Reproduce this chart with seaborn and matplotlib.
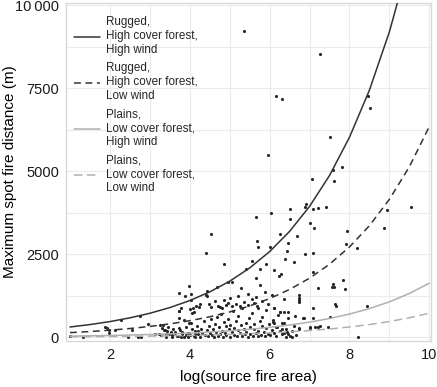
import numpy as np
import pandas as pd
import matplotlib
matplotlib.use("Agg")
import matplotlib.pyplot as plt
import seaborn as sns

# ------------------------------------------------------------ observations
obs_x = [
    5.37, 7.26, 6.15, 6.30, 8.46, 8.51, 7.52, 5.97, 7.81, 7.59, 7.06, 7.62,
    6.50, 6.91, 6.89, 7.08, 7.22, 7.41, 9.55, 8.93, 6.50, 7.02, 7.11, 6.68, 7.95, 8.87, 7.92,
    5.67, 6.03, 6.25, 5.69, 5.70, 6.00, 6.46, 6.43, 6.39, 6.60, 6.88, 7.09, 8.19,
    5.91, 5.77, 6.11, 6.28, 6.23, 5.65, 5.40, 5.55, 4.85, 4.95, 5.05, 5.28, 5.76, 7.09, 7.22,
    7.59, 7.62, 7.57, 7.85, 7.90,
    6.74, 6.74, 6.74, 6.74, 6.36, 6.11, 6.27, 6.37, 6.45, 6.45, 6.64, 6.83, 7.08, 7.09, 7.63,
    7.67, 7.51, 8.44, 8.22, 6.74, 7.02, 7.22, 7.47,
    4.40, 4.54, 4.40, 4.44, 4.69, 3.74, 3.88, 3.99, 4.04, 4.03, 4.07, 3.74, 3.79, 4.15, 4.24,
    3.72, 4.00, 4.10, 4.06, 4.25, 4.43, 4.48, 4.53,
    1.00, 1.32, 2.27, 2.75, 1.88, 1.93, 1.98, 1.98, 2.13, 2.45, 2.70, 2.78, 2.55, 2.95, 3.12,
    3.22, 3.32, 3.35, 3.44, 3.41, 3.48,
    3.55, 3.62, 3.68, 3.75, 3.80, 3.85, 3.90, 3.95, 4.00, 4.02, 4.05, 4.10, 4.12, 4.18, 4.20,
    4.25, 4.28, 4.30, 4.35, 4.38, 4.42, 4.45, 4.48, 4.50, 4.52, 4.55, 4.58, 4.60, 4.62, 4.65,
    4.68, 4.70, 4.72, 4.75, 4.78, 4.80, 4.82, 4.85, 4.88, 4.90, 4.92, 4.95, 4.98, 5.00, 5.02,
    5.05, 5.08, 5.10, 5.12, 5.15, 5.18, 5.20, 5.22, 5.25, 5.28, 5.30, 5.32, 5.35, 5.38, 5.40,
    5.42, 5.45, 5.48, 5.50, 5.52, 5.55, 5.58, 5.60, 5.62, 5.65, 5.68, 5.70, 5.72, 5.75, 5.78,
    5.80, 5.82, 5.85, 5.88, 5.90, 5.92, 5.95, 5.98, 6.00, 6.05, 6.08, 6.12, 6.15, 6.18, 6.22,
    6.25, 6.30, 6.35, 6.40, 6.45, 6.50, 6.55, 6.60, 6.65,
    4.70, 4.75, 4.80, 4.90, 4.95, 5.05, 5.15, 5.25, 5.35, 5.45, 5.55, 5.60, 5.70, 4.62, 4.85,
    5.00, 5.20, 5.45, 5.65, 5.80, 5.88, 5.95, 6.05,
    6.10, 6.15, 6.31, 6.36, 6.40, 6.44, 6.56, 6.73, 6.85, 7.02, 7.14, 7.27, 6.10, 6.27, 6.31, 6.09,
    3.25, 3.31, 3.37, 3.46, 3.52, 3.58, 3.64, 3.73, 3.81, 3.90, 3.98, 4.14, 4.21, 3.28, 3.41,
    3.55, 3.71, 3.79, 3.96, 4.12, 3.74, 3.86, 3.99,
]
obs_y = [
    9218, 8525, 7271, 7171, 7253, 6900, 6028, 5496, 5134, 5035, 4755, 4704,
    3860, 4024, 3922, 3860, 3882, 3921, 3931, 3822, 3560, 3449, 3280, 3058, 3199, 3289, 2808,
    3611, 3750, 3108, 2907, 2727, 2717, 2838, 2597, 2356, 2266, 2516, 2546, 2678,
    2215, 2065, 2035, 1905, 1836, 1794, 2065, 2296, 2197, 1673, 1673, 1484, 1574, 1965, 1474,
    1595, 1523, 1505, 1715, 1463,
    1264, 1190, 1120, 1053, 1153, 891, 770, 770, 770, 590, 650, 580, 882, 590, 993,
    942, 611, 942, 20, 271, 301, 310, 319,
    2537, 3118, 1273, 1393, 1523, 1333, 1234, 1535, 1312, 1122, 891, 790, 891, 951, 903,
    800, 860, 760, 720, 990, 1243, 1002, 921,
    39, 20, 510, 641, 310, 270, 220, 120, 220, 20, 0, 20, 220, 400, 90,
    90, 370, 220, 200, 90, 90,
    60, 150, 40, 230, 90, 20, 310, 140, 60, 420, 250, 30, 180, 350, 90,
    20, 260, 140, 480, 60, 210, 30, 330, 120, 560, 70, 240, 10, 400, 160,
    620, 50, 300, 100, 700, 200, 20, 450, 130, 330, 60, 540, 240, 10, 380,
    150, 780, 70, 290, 500, 30, 210, 650, 120, 360, 40, 880, 250, 90, 440,
    170, 20, 580, 310, 110, 720, 50, 260, 400, 140, 930, 30, 200, 480, 80,
    330, 620, 160, 40, 270, 820, 110, 390, 60, 230, 520, 140, 40, 320, 660,
    190, 90, 420, 250, 110, 30, 180, 350, 80,
    950, 900, 880, 960, 1020, 940, 1000, 930, 1060, 980, 1150, 1020, 880, 1080, 1120,
    1180, 1240, 1300, 1220, 1080, 1350, 1000, 1280,
    420, 300, 240, 120, 20, 170, 20, 240, 570, 270, 300, 340, 870, 770, 440, 470,
    370, 270, 220, 300, 170, 240, 120, 270, 170, 70, 140, 100, 200, 70, 20,
    20, 40, 0, 20, 0, 570, 520, 420,
]

# ------------------------------------------------------------ fitted curves
curve_x = [1.0, 1.5, 2.0, 2.5, 3.0, 3.5, 4.0, 4.5, 5.0, 5.5,
           6.0, 6.5, 7.0, 7.5, 8.0, 8.5, 9.0, 9.5, 10.0]
rugged_high = [310, 383, 473, 585, 723, 894, 1105, 1366, 1688, 2087,
               2579, 3188, 3940, 4870, 6020, 7440, 9196, 11367, 14050]
rugged_low = [140, 173, 214, 264, 327, 404, 499, 617, 762, 943,
              1165, 1440, 1779, 2199, 2719, 3360, 4153, 5133, 6345]
plains_high = [36, 44, 55, 68, 84, 104, 128, 159, 196, 242,
               299, 370, 457, 565, 699, 864, 1067, 1319, 1630]
plains_low = [16, 20, 24, 30, 37, 46, 57, 70, 87, 108,
              133, 164, 203, 251, 311, 384, 475, 587, 725]

labels = ["Rugged,\nHigh cover forest,\nHigh wind",
          "Rugged,\nHigh cover forest,\nLow wind",
          "Plains,\nLow cover forest,\nHigh wind",
          "Plains,\nLow cover forest,\nLow wind"]
colors = ["#333333", "#333333", "#b0b0b0", "#b0b0b0"]
dash_styles = ["", (4.5, 3), "", (5.5, 3)]

y_ticks = [0, 2500, 5000, 7500, 10000]
y_tick_labels = ["0", "2500", "5000", "7500", "10\u2009000"]
x_ticks = [2, 4, 6, 8, 10]

sns.set_theme(style="whitegrid")
plt.rcParams["font.family"] = ["Liberation Sans", "DejaVu Sans"]

curves = pd.DataFrame({
    "x": curve_x * 4,
    "y": rugged_high + rugged_low + plains_high + plains_low,
    "group": sum([[lab] * len(curve_x) for lab in labels], []),
})
points = pd.DataFrame({"x": obs_x, "y": obs_y})

fig = plt.figure(figsize=(4.37, 3.87), dpi=100)
ax = fig.add_axes([0.151, 0.119, 0.836, 0.873])

sns.scatterplot(data=points, x="x", y="y", color="#262626", s=5,
                linewidth=0, ax=ax, zorder=3)
sns.lineplot(data=curves, x="x", y="y", hue="group", style="group",
             hue_order=labels, style_order=labels,
             palette=dict(zip(labels, colors)),
             dashes=dict(zip(labels, dash_styles)),
             linewidth=1.1, ax=ax, zorder=4)

ax.set_xlim(0.9, 10.05)
ax.set_ylim(-110, 10060)
ax.set_xticks(x_ticks)
ax.set_xticks([3, 5, 7, 9], minor=True)
ax.set_yticks(y_ticks)
ax.set_yticklabels(y_tick_labels)
ax.set_yticks([1250, 3750, 6250, 8750], minor=True)
ax.grid(which="both", color="#ebebeb", linewidth=0.8)
ax.set_facecolor("white")
for sp in ax.spines.values():
    sp.set_visible(True)
    sp.set_color("#d9d9d9")
    sp.set_linewidth(1.0)
ax.tick_params(axis="both", which="major", length=3, width=0.8,
               color="#d9d9d9", labelsize=10.5, labelcolor="#1a1a1a", pad=2)
ax.tick_params(axis="both", which="minor", length=0)
ax.set_xlabel("log(source fire area)", fontsize=11, color="black", labelpad=6)
ax.set_ylabel("Maximum spot fire distance (m)", fontsize=11, color="black")
ax.yaxis.set_label_coords(-0.135, 0.5)

leg = ax.legend(loc="upper left", frameon=False, fontsize=8.4, title=None,
                handlelength=2.2, handletextpad=0.5, labelspacing=0.55,
                borderaxespad=0.3, bbox_to_anchor=(0.0, 0.985))

fig.savefig("out.png", dpi=100)
